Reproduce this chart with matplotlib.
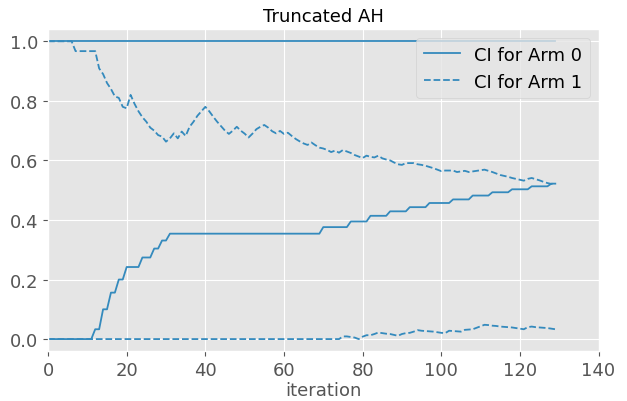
import matplotlib
matplotlib.use("Agg")
import matplotlib.pyplot as plt
import numpy as np

plt.style.use("ggplot")

iterations = list(range(130))

upper_arm0 = [1.0] * 130

lower_arm0 = ([0.0] * 12 + [0.033] * 2 + [0.1] * 2 + [0.156] * 2 + [0.2] * 2 +
              [0.242] * 4 + [0.274] * 3 + [0.304] * 2 + [0.331] * 2 +
              [0.354] * 39 + [0.376] * 7 + [0.395] * 5 + [0.414] * 5 +
              [0.429] * 5 + [0.443] * 5 + [0.457] * 6 + [0.469] * 5 +
              [0.482] * 5 + [0.493] * 5 + [0.503] * 5 + [0.513] * 5 + [0.522] * 2)

upper_arm1 = [1.0, 1.0, 1.0, 1.0, 1.0, 1.0, 1.0,
              0.967, 0.967, 0.967, 0.967, 0.967, 0.967,
              0.909, 0.89, 0.86, 0.84, 0.815, 0.81, 0.78, 0.775,
              0.82, 0.79, 0.765, 0.745, 0.73, 0.71, 0.70, 0.685, 0.68, 0.663,
              0.674, 0.691, 0.674, 0.697, 0.682, 0.713, 0.73, 0.75, 0.765, 0.78,
              0.765, 0.747, 0.73, 0.715, 0.70, 0.689, 0.70, 0.713, 0.70, 0.69,
              0.677, 0.69, 0.705, 0.713, 0.719, 0.71, 0.698, 0.691, 0.699, 0.689,
              0.693, 0.682, 0.672, 0.664, 0.657, 0.652, 0.66, 0.651, 0.643, 0.64,
              0.635, 0.628, 0.633, 0.626, 0.635, 0.630, 0.625, 0.618, 0.613, 0.608,
              0.616, 0.612, 0.61, 0.616, 0.607, 0.603, 0.6, 0.593, 0.587, 0.585,
              0.591, 0.591, 0.591, 0.587, 0.585, 0.582, 0.578, 0.574, 0.569, 0.564,
              0.566, 0.566, 0.566, 0.561, 0.563, 0.565, 0.561, 0.563, 0.565, 0.567,
              0.569, 0.565, 0.561, 0.556, 0.551, 0.548, 0.545, 0.541, 0.538, 0.535,
              0.532, 0.538, 0.541, 0.537, 0.533, 0.528, 0.524, 0.521, 0.523]

lower_arm1 = ([0.0] * 75 +
              [0.009, 0.009, 0.007, 0.005, 0.0,
               0.008, 0.013, 0.013, 0.017, 0.022, 0.02, 0.018, 0.017, 0.014, 0.011,
               0.017, 0.02, 0.021, 0.025, 0.03, 0.028, 0.027, 0.026, 0.025, 0.023,
               0.021, 0.02, 0.028, 0.027, 0.026, 0.025, 0.031, 0.032, 0.033, 0.038,
               0.043, 0.048, 0.047, 0.045, 0.044, 0.042, 0.041, 0.040, 0.039, 0.037,
               0.035, 0.033, 0.040, 0.042, 0.040, 0.039, 0.038, 0.037, 0.035, 0.033])

color = "#348ABD"

fig = plt.figure(figsize=(6.27, 4.02), dpi=100)
ax = fig.add_axes([0.0766, 0.1244, 0.878, 0.8])

ax.plot(iterations, upper_arm0, color=color, linestyle="-", linewidth=1.3, label="CI for Arm 0")
ax.plot(iterations, lower_arm0, color=color, linestyle="-", linewidth=1.3)
ax.plot(iterations, upper_arm1, color=color, linestyle="--", linewidth=1.3, label="CI for Arm 1")
ax.plot(iterations, lower_arm1, color=color, linestyle="--", linewidth=1.3)

ax.set_xlim(0, 140)
ax.set_ylim(-0.04, 1.04)
ax.set_xticks([0, 20, 40, 60, 80, 100, 120, 140])
ax.set_yticks([0.0, 0.2, 0.4, 0.6, 0.8, 1.0])
ax.tick_params(labelsize=13)
ax.set_xlabel("iteration", fontsize=13, labelpad=2)
ax.set_title("Truncated AH", fontsize=13)
ax.legend(loc="upper right", fontsize=13)

fig.savefig("out.png", dpi=100)
